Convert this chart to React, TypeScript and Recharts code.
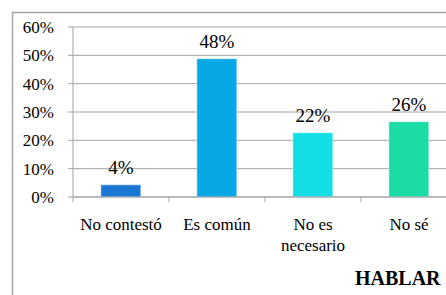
import React from 'react';
import { BarChart, Bar, XAxis, YAxis, CartesianGrid, Cell, LabelList } from 'recharts';

const categories = ['No contestó', 'Es común', 'No es\nnecesario', 'No sé'];
const values = [4.3, 48.8, 22.7, 26.6];
const valueLabels = ['4%', '48%', '22%', '26%'];
const colors = ['#1a78d4', '#08a7e6', '#13dee6', '#1cdca6'];
const yTicks = [0, 10, 20, 30, 40, 50, 60];
const title = 'HABLAR';

const data = categories.map((c, i) => ({ name: c, value: values[i], label: valueLabels[i] }));

const FONT = 'Liberation Serif';
const AXIS = '#a3a3a3';

const CatTick = (props: any) => {
  const { x, y, payload } = props;
  const lines = String(payload.value).split('\n');
  const off = payload.offset || 0;
  return (
    <g>
      <line x1={x - off} x2={x - off} y1={y} y2={y + 5} stroke={AXIS} strokeWidth={1} />
      <text x={x} y={y + 33} textAnchor="middle" fontSize={17} fontFamily={FONT} fill="#000">
        {lines.map((l, i) => (
          <tspan key={i} x={x} dy={i === 0 ? 0 : 21}>{l}</tspan>
        ))}
      </text>
    </g>
  );
};

const YTick = (props: any) => {
  const { x, y, payload } = props;
  return (
    <text x={x} y={y} dy={6} textAnchor="end" fontSize={17} fontFamily={FONT} fill="#000">
      {`${payload.value}%`}
    </text>
  );
};

const ValueLabel = (props: any) => {
  const { x, y, width, value } = props;
  return (
    <text x={x + width / 2} y={y - 11} textAnchor="middle" fontSize={19} fontFamily={FONT} fill="#000">
      {value}
    </text>
  );
};

export default function App() {
  return (
    <div style={{ position: 'absolute', left: 0, top: 0, width: 446, height: 295, overflow: 'hidden', background: '#fff' }}>
      <svg width={446} height={295} style={{ position: 'absolute', left: 0, top: 0 }}>
        <path d="M12.5 295 L12.5 12.5 L446 12.5" fill="none" stroke="#a6a6a6" strokeWidth={1.5} />
        <text x={355} y={285} fontSize={20} fontWeight="bold" fontFamily={FONT} fill="#000">{title}</text>
      </svg>
      <div style={{ position: 'absolute', left: 0, top: 0 }}>
        <BarChart
          width={446}
          height={295}
          data={data}
          margin={{ top: 27, right: -11, left: 0, bottom: 38 }}
          barCategoryGap="29%"
        >
          <CartesianGrid vertical={false} stroke={AXIS} />
          <YAxis
            width={73}
            domain={[0, 60]}
            ticks={yTicks}
            interval={0}
            axisLine={{ stroke: AXIS }}
            tickLine={{ stroke: AXIS }}
            tickSize={5}
            tickMargin={14}
            tick={<YTick />}
          />
          <XAxis
            dataKey="name"
            height={60}
            interval={0}
            axisLine={{ stroke: AXIS }}
            tickLine={false}
            tickSize={0}
            tickMargin={0}
            tick={<CatTick />}
          />
          <Bar dataKey="value" isAnimationActive={false} stroke="#ffffff" strokeWidth={0.5}>
            {data.map((d, i) => (
              <Cell key={i} fill={colors[i]} />
            ))}
            <LabelList dataKey="label" content={<ValueLabel />} />
          </Bar>
        </BarChart>
      </div>
    </div>
  );
}
